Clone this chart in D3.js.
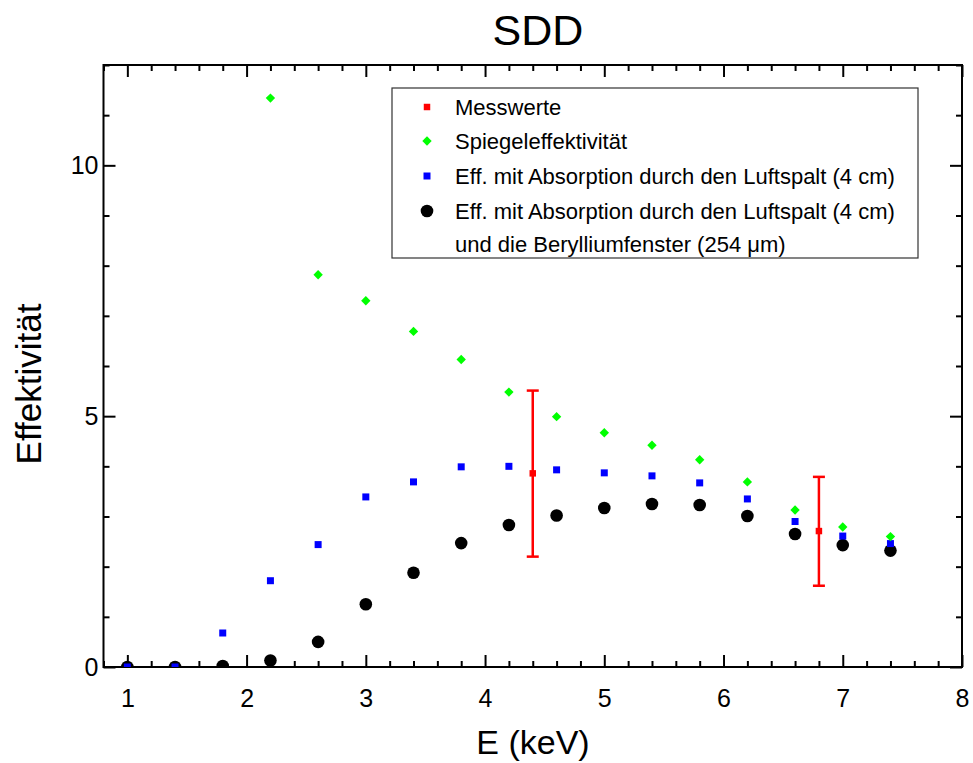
<!DOCTYPE html>
<html>
<head>
<meta charset="utf-8">
<script src="https://cdn.jsdelivr.net/npm/d3@7"></script>
<style>
  body { margin: 0; background: #fff; }
  svg { display: block; font-family: "Liberation Sans", Arial, sans-serif; }
</style>
</head>
<body>
<svg id="chart" width="973" height="763"></svg>
<script>
// --- data ---
const energyAll = [1.0, 1.4, 1.8, 2.2, 2.6, 3.0, 3.4, 3.8, 4.2, 4.6, 5.0, 5.4, 5.8, 6.2, 6.6, 7.0, 7.4];
const energyMirror = [2.2, 2.6, 3.0, 3.4, 3.8, 4.2, 4.6, 5.0, 5.4, 5.8, 6.2, 6.6, 7.0, 7.4];
const mirrorEff = [11.34, 7.82, 7.30, 6.69, 6.13, 5.48, 4.99, 4.67, 4.42, 4.13, 3.69, 3.13, 2.79, 2.60];
const airEff = [0.0, 0.0, 0.68, 1.72, 2.44, 3.39, 3.69, 3.99, 4.00, 3.93, 3.87, 3.81, 3.67, 3.35, 2.90, 2.61, 2.46];
const airBeEff = [0.0, 0.0, 0.02, 0.13, 0.50, 1.25, 1.88, 2.47, 2.83, 3.02, 3.17, 3.25, 3.23, 3.01, 2.65, 2.43, 2.32];
const measE = [4.4, 6.8];
const measVal = [3.86, 2.71];
const measLow = [2.20, 1.62];
const measHigh = [5.51, 3.79];

const xTicks = [1, 2, 3, 4, 5, 6, 7, 8];
const yTicks = [0, 5, 10];
const legendLabels = [
    "Messwerte",
    "Spiegeleffektivität",
    "Eff. mit Absorption durch den Luftspalt (4 cm)",
    "Eff. mit Absorption durch den Luftspalt (4 cm)",
    "und die Berylliumfenster (254 \u03bcm)"
];

const svg = d3.select("#chart");
const margin = { top: 65, right: 11, bottom: 96, left: 103.5 };
const width = 973 - margin.left - margin.right;
const height = 763 - margin.top - margin.bottom;

const x = d3.scaleLinear().domain([0.8, 8]).range([0, width]);
const y = d3.scaleLinear().domain([0, 12]).range([height, 0]);

const g = svg.append("g").attr("transform", `translate(${margin.left},${margin.top})`);

svg.append("defs").append("clipPath").attr("id", "clip")
    .append("rect").attr("width", width).attr("height", height);

// title + axis labels
svg.append("text").attr("x", 538).attr("y", 45).attr("text-anchor", "middle")
    .attr("font-size", 43).text("SDD");
svg.append("text").attr("x", 533).attr("y", 754).attr("text-anchor", "middle")
    .attr("font-size", 34).text("E (keV)");
svg.append("text").attr("transform", `translate(41,384) rotate(-90)`)
    .attr("text-anchor", "middle").attr("font-size", 35).text("Effektivität");

// axes with inward ticks on all four sides
const minorX = d3.range(0.8, 8.001, 0.2).filter(v => Math.abs(v - Math.round(v)) > 0.01);
const minorY = d3.range(0, 12.001, 1).filter(v => v % 5 !== 0);

function drawTicks(sel, axis) {
    sel.call(axis);
    sel.select(".domain").remove();
    sel.selectAll("line").attr("stroke", "#000").attr("stroke-width", 2);
}

const axBottom = g.append("g").attr("transform", `translate(0,${height})`);
drawTicks(axBottom.append("g"), d3.axisBottom(x).tickValues(minorX).tickSize(-6).tickFormat(""));
drawTicks(axBottom.append("g"), d3.axisBottom(x).tickValues(xTicks).tickSize(-12).tickPadding(22).tickFormat(d3.format("d")));
axBottom.selectAll("text").attr("font-size", 25).attr("font-family", "Liberation Sans, Arial, sans-serif").attr("fill", "#000");

const axTop = g.append("g");
drawTicks(axTop.append("g"), d3.axisTop(x).tickValues(minorX).tickSize(-6).tickFormat(""));
drawTicks(axTop.append("g"), d3.axisTop(x).tickValues(xTicks).tickSize(-12).tickFormat(""));

const axLeft = g.append("g");
drawTicks(axLeft.append("g"), d3.axisLeft(y).tickValues(minorY).tickSize(-6).tickFormat(""));
drawTicks(axLeft.append("g"), d3.axisLeft(y).tickValues(yTicks).tickSize(-12).tickPadding(5).tickFormat(d3.format("d")));
axLeft.selectAll("text").attr("font-size", 25).attr("font-family", "Liberation Sans, Arial, sans-serif").attr("fill", "#000");

const axRight = g.append("g").attr("transform", `translate(${width},0)`);
drawTicks(axRight.append("g"), d3.axisRight(y).tickValues(minorY).tickSize(-6).tickFormat(""));
drawTicks(axRight.append("g"), d3.axisRight(y).tickValues(yTicks).tickSize(-12).tickFormat(""));

g.append("rect").attr("width", width).attr("height", height)
    .attr("fill", "none").attr("stroke", "#000").attr("stroke-width", 2);

// series
const plot = g.append("g").attr("clip-path", "url(#clip)");
const sym = {
    square: d3.symbol().type(d3.symbolSquare).size(49),
    redSquare: d3.symbol().type(d3.symbolSquare).size(42),
    diamond: d3.symbol().type(d3.symbolSquare).size(44),
    circle: d3.symbol().type(d3.symbolCircle).size(Math.PI * 6.3 * 6.3)
};

plot.selectAll(".black").data(energyAll.map((e, i) => [e, airBeEff[i]])).join("path")
    .attr("transform", d => `translate(${x(d[0])},${y(d[1])})`)
    .attr("d", sym.circle).attr("fill", "#000");

plot.selectAll(".blue").data(energyAll.map((e, i) => [e, airEff[i]])).join("path")
    .attr("transform", d => `translate(${x(d[0])},${y(d[1])})`)
    .attr("d", sym.square).attr("fill", "#0000ff");

plot.selectAll(".green").data(energyMirror.map((e, i) => [e, mirrorEff[i]])).join("path")
    .attr("transform", d => `translate(${x(d[0])},${y(d[1])}) rotate(45)`)
    .attr("d", sym.diamond).attr("fill", "#00ff00");

const meas = measE.map((e, i) => ({ e, v: measVal[i], lo: measLow[i], hi: measHigh[i] }));
const err = plot.selectAll(".err").data(meas).join("g").attr("stroke", "#ff0000").attr("stroke-width", 2.5);
err.append("line").attr("x1", d => x(d.e)).attr("x2", d => x(d.e)).attr("y1", d => y(d.lo)).attr("y2", d => y(d.hi));
err.append("line").attr("x1", d => x(d.e) - 6).attr("x2", d => x(d.e) + 6).attr("y1", d => y(d.lo)).attr("y2", d => y(d.lo));
err.append("line").attr("x1", d => x(d.e) - 6).attr("x2", d => x(d.e) + 6).attr("y1", d => y(d.hi)).attr("y2", d => y(d.hi));
plot.selectAll(".red").data(meas).join("path")
    .attr("transform", d => `translate(${x(d.e)},${y(d.v)})`)
    .attr("d", sym.redSquare).attr("fill", "#ff0000");

// legend
const legend = svg.append("g");
legend.append("rect").attr("x", 392).attr("y", 88).attr("width", 526).attr("height", 170)
    .attr("fill", "#fff").attr("stroke", "#333").attr("stroke-width", 1.2);
const rowY = [107, 141, 176, 211, 244];
const legendSym = [
    { d: sym.redSquare, fill: "#ff0000", rot: 0 },
    { d: sym.diamond, fill: "#00ff00", rot: 45 },
    { d: sym.square, fill: "#0000ff", rot: 0 },
    { d: sym.circle, fill: "#000", rot: 0 },
    null
];
legendSym.forEach((s, i) => {
    if (!s) return;
    legend.append("path").attr("d", s.d).attr("fill", s.fill)
        .attr("transform", `translate(427,${rowY[i]}) rotate(${s.rot})`);
});
legend.selectAll("text.lab").data(legendLabels).join("text")
    .attr("x", 455).attr("y", (d, i) => rowY[i] + 8)
    .attr("font-size", 22).text(d => d);
</script>
</body>
</html>
